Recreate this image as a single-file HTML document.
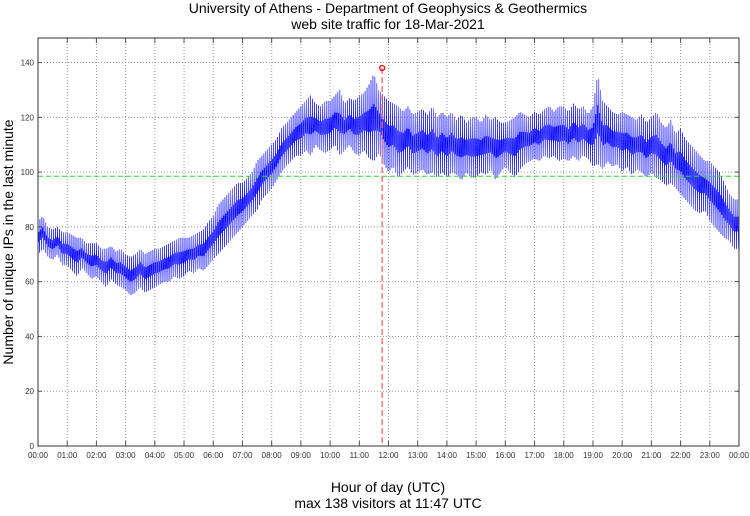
<!DOCTYPE html>
<html><head><meta charset="utf-8"><style>
body{margin:0;background:#fff;font-family:"Liberation Sans",sans-serif}
svg text{font-family:"Liberation Sans",sans-serif}
</style></head><body>
<svg id="chart" width="750" height="511" viewBox="0 0 750 511">
<text x="388" y="13" text-anchor="middle" font-size="14">University of Athens - Department of Geophysics &amp; Geothermics</text>
<text x="388" y="29" text-anchor="middle" font-size="14">web site traffic for 18-Mar-2021</text>
<text x="388" y="492" text-anchor="middle" font-size="14">Hour of day (UTC)</text>
<text x="388" y="508" text-anchor="middle" font-size="14">max 138 visitors at 11:47 UTC</text>
<text transform="translate(13,242) rotate(-90)" text-anchor="middle" font-size="14">Number of unique IPs in the last minute</text>
<g id="grid"></g><g id="series"></g><g id="overlay"></g>
<rect x="38" y="38" width="701" height="408" fill="none" stroke="#333" stroke-width="1"/>
</svg>
<script>
const yTicks=[0,20,40,60,80,100,120,140];
const xTickLabels=["00:00","01:00","02:00","03:00","04:00","05:00","06:00","07:00","08:00","09:00","10:00","11:00","12:00","13:00","14:00","15:00","16:00","17:00","18:00","19:00","20:00","21:00","22:00","23:00","00:00"];
// 10-minute bins: low and high envelope of visitors per minute
const lowVals=[70,72,69,68,70,66, 66,64,62,65,63,61, 62,60,58,61,59,58, 57,55,56,58,56,57, 58,59,60,60,62,61, 62,64,63,65,64,66, 68,70,72,74,76,78, 80,82,84,86,90,92, 94,97,100,102,104,106, 106,108,106,110,108,107, 108,110,106,108,110,107, 106,108,105,104,107,103, 100,102,98,100,102,99, 100,101,99,100,98,100, 98,100,99,97,100,98, 98,100,99,101,97,100, 102,100,98,101,103,104, 105,104,106,105,106,104, 105,104,106,104,106,105, 102,103,101,104,102,103, 100,102,99,101,100,98, 100,98,97,95,96,94, 92,90,88,86,85,86, 82,80,78,76,75,72];
const highVals=[82,84,80,79,80,78, 78,77,76,76,74,74, 74,72,72,73,71,72, 70,69,70,72,70,71, 72,72,73,74,75,76, 76,76,77,78,79,82, 84,88,90,92,94,96, 96,98,100,104,106,108, 110,112,116,118,120,122, 124,126,128,125,124,126, 126,128,130,125,127,126, 128,129,132,136,130,128, 126,125,124,122,124,121, 122,123,121,124,120,122, 120,122,119,121,118,120, 120,118,121,119,120,118, 118,119,120,122,121,120, 122,121,123,124,122,124, 124,122,125,123,124,121, 124,136,126,124,122,121, 122,121,120,119,121,118, 120,122,118,116,119,114, 116,112,110,108,106,104, 104,102,100,96,92,90];
const peakHour=11+47/60, peakVal=138, avgVal=98.5;

const X0=38,X1=739,Y0=446,PPU=2.739;
const xs=h=>X0+h*(X1-X0)/24, ys=v=>Y0-v*PPU;
const NS="http://www.w3.org/2000/svg";
function mk(tag,attrs,parent){const e=document.createElementNS(NS,tag);for(const k in attrs)e.setAttribute(k,attrs[k]);parent.appendChild(e);return e;}
const grid=document.getElementById('grid'),series=document.getElementById('series'),ov=document.getElementById('overlay');
yTicks.forEach(v=>{
  if(v>0){const l=mk('line',{x1:X0,x2:X1,y1:ys(v),y2:ys(v),stroke:'#999','stroke-dasharray':'1,2'},grid);
  
  }
  const t=mk('text',{x:X0-4,y:ys(v)+3,'text-anchor':'end','font-size':'8',fill:'#333'},grid);t.textContent=v;
  
  
  mk('line',{x1:X0,x2:X0+4,y1:ys(v),y2:ys(v),stroke:'#555'},grid);
  mk('line',{x1:X1,x2:X1-4,y1:ys(v),y2:ys(v),stroke:'#555'},grid);
});
xTickLabels.forEach((lab,i)=>{
  if(i>0&&i<24){const l=mk('line',{x1:xs(i),x2:xs(i),y1:38,y2:Y0,stroke:'#999','stroke-dasharray':'1,2'},grid);
  
  }
  mk('line',{x1:xs(i),x2:xs(i),y1:Y0,y2:Y0-5,stroke:'#555'},grid);
  mk('line',{x1:xs(i),x2:xs(i),y1:38,y2:43,stroke:'#555'},grid);
  const t=mk('text',{x:xs(i),y:458,'text-anchor':'middle','font-size':'8',fill:'#333'},grid);t.textContent=lab;
  
  
});
// series: per-minute zigzag between envelopes (every other step goes only part-way)
let pts=[];const n=lowVals.length;
for(let m=0;m<1440;m++){
  const b=m/10,i=Math.min(Math.floor(b),n-1),j=Math.min(i+1,n-1),f=b-Math.floor(b);
  const lo=lowVals[i]*(1-f)+lowVals[j]*f,hi=highVals[i]*(1-f)+highVals[j]*f,mid=(lo+hi)/2;
  const k=m%4;
  const v=k===0?hi:k===1?mid-(hi-lo)*0.15:k===2?mid+(hi-lo)*0.15:lo;
  pts.push(xs(m/60).toFixed(2)+','+ys(v).toFixed(2));
}
const pl=mk('polyline',{points:pts.join(' '),fill:'none',stroke:'#0000ff','stroke-width':'0.5'},series);


const avg=mk('line',{x1:X0,x2:X1,y1:ys(avgVal),y2:ys(avgVal),stroke:'#22dd22','stroke-dasharray':'5,3','stroke-width':'1'},ov);


const pk=mk('line',{x1:xs(peakHour),x2:xs(peakHour),y1:ys(peakVal),y2:Y0,stroke:'#ff6666','stroke-dasharray':'6,3','stroke-width':'1.3'},ov);


const c=mk('circle',{cx:xs(peakHour),cy:ys(peakVal),r:2.5,fill:'none',stroke:'#ff0000','stroke-width':'1.3'},ov);


</script>
</body></html>
